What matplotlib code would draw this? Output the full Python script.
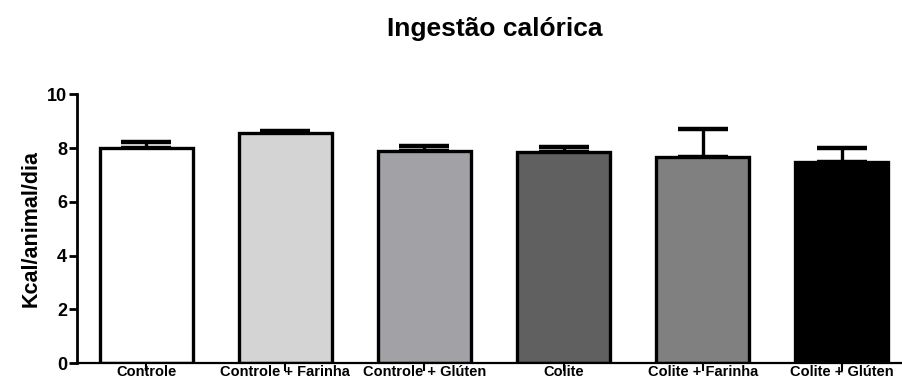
import matplotlib
matplotlib.use("Agg")
import matplotlib.pyplot as plt

categories = ["Controle", "Controle + Farinha", "Controle + Glúten",
              "Colite", "Colite + Farinha", "Colite + Glúten"]
means = [7.99, 8.55, 7.90, 7.84, 7.68, 7.49]
errors = [0.25, 0.10, 0.19, 0.19, 1.03, 0.52]
colors = ["#ffffff", "#d4d4d4", "#a2a2a6", "#606060", "#808080", "#000000"]
yticks = [0, 2, 4, 6, 8, 10]

plt.rcParams["font.family"] = ["Liberation Sans", "DejaVu Sans"]
plt.rcParams["font.weight"] = "bold"

fig = plt.figure(figsize=(9.03, 3.81), dpi=100)
ax = fig.add_axes([0.0849, 0.0465, 0.9243, 0.706])

x = list(range(len(categories)))
ax.bar(x, means, width=0.67, color=colors, edgecolor="black", linewidth=2.4,
       zorder=2)
ax.errorbar(x, means, yerr=[[0] * len(errors), errors], fmt="none",
            ecolor="black", elinewidth=2.4, capsize=18, capthick=3.2, zorder=1)

ax.set_xlim(-0.5, 5.5)
ax.set_ylim(0, 10)
ax.set_yticks(yticks)
ax.set_xticks(x)
ax.set_xticklabels(categories, fontsize=10.5, fontweight="bold")
ax.tick_params(axis="x", length=6, width=1.5, pad=-5)
ax.tick_params(axis="y", length=6, width=2, labelsize=13, pad=1)
for lbl in ax.get_yticklabels():
    lbl.set_fontweight("bold")

for side in ("top", "right"):
    ax.spines[side].set_visible(False)
ax.spines["left"].set_linewidth(2)
ax.spines["bottom"].set_linewidth(1.6)

ax.set_ylabel("Kcal/animal/dia", fontsize=15.5, fontweight="bold", labelpad=4)
fig.text(0.548, 0.925, "Ingestão calórica", ha="center", va="center",
         fontsize=19, fontweight="bold")

fig.savefig("out.png", dpi=100)
